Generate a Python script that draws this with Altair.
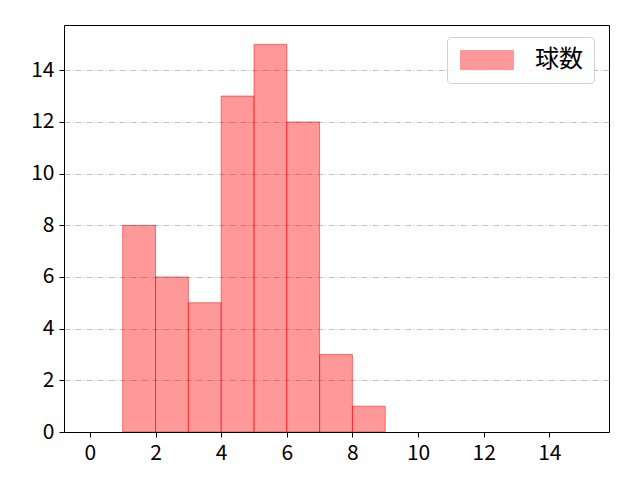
import altair as alt
import pandas as pd

bin_start = [1, 2, 3, 4, 5, 6, 7, 8]
bin_end = [2, 3, 4, 5, 6, 7, 8, 9]
counts = [8, 6, 5, 13, 15, 12, 3, 1]
series = ["球数"] * len(counts)
x_ticks = [0, 2, 4, 6, 8, 10, 12, 14]
y_ticks = [0, 2, 4, 6, 8, 10, 12, 14]

df = pd.DataFrame({"start": bin_start, "end": bin_end, "count": counts, "series": series})

FONT = "Noto Sans CJK JP"

chart = alt.Chart(df).mark_rect(
    fillOpacity=0.4, stroke="red", strokeOpacity=0.5, strokeWidth=1
).encode(
    x=alt.X("start:Q", scale=alt.Scale(domain=[-0.79, 15.82], nice=False, zero=False),
            axis=alt.Axis(values=x_ticks, title=None, grid=False, format="d",
                          domain=True, domainColor="black", domainWidth=1, zindex=1)),
    x2="end:Q",
    y=alt.Y("count:Q", scale=alt.Scale(domain=[0, 15.75], nice=False),
            axis=alt.Axis(values=y_ticks, title=None, grid=True, format="d",
                          domain=False,
                          gridColor="#b0b0b0", gridWidth=0.8, gridDash=[6, 2, 1, 2])),
    y2=alt.datum(0),
    color=alt.Color("series:N", scale=alt.Scale(range=["red"]),
                    legend=alt.Legend(title=None, orient="none", legendX=383, legendY=12,
                                      symbolType="M-1,-1H4.58V1H-1Z", symbolSize=361,
                                      symbolOpacity=0.4, symbolStrokeColor="red",
                                      symbolStrokeWidth=1, labelFontSize=24, labelFont=FONT,
                                      labelOffset=53, padding=11, cornerRadius=4,
                                      strokeColor="#d0d0d0", fillColor="rgba(255,255,255,0.8)",
                                      labelColor="black")),
).properties(
    width=545, height=407,
    autosize=alt.AutoSizeParams(type="none"),
    padding={"left": 56, "top": 17, "right": 20, "bottom": 40},
).configure_view(
    stroke="black", strokeWidth=1
).configure_axis(
    tickColor="black", tickSize=5, tickWidth=1,
    labelFontSize=21, labelFont=FONT, labelColor="black", labelPadding=5,
)

chart.save("out.html", embed_options={"renderer": "svg", "actions": False})
